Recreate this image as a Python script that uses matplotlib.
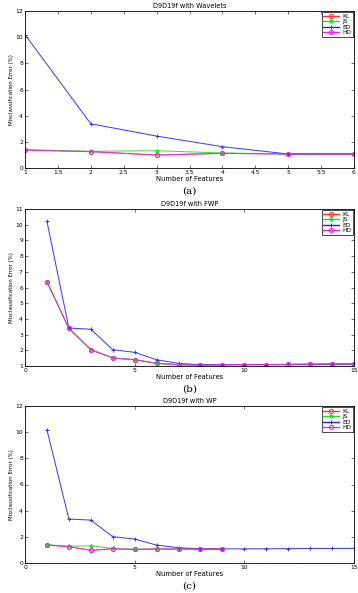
import matplotlib.pyplot as plt
import numpy as np

# panel (a): wavelets, 1..6 features
xa = [1, 2, 3, 4, 5, 6]
kl_a = [1.37, 1.25, 0.99, 1.12, 1.07, 1.07]
js_a = [1.40, 1.28, 1.32, 1.15, 1.07, 1.07]
ed_a = [10.2, 3.38, 2.44, 1.63, 1.07, 1.07]
hd_a = [1.37, 1.25, 0.99, 1.12, 1.07, 1.07]

# panel (b): FWP, 1..15 features
xb = list(range(1, 16))
kl_b = [6.37, 3.40, 2.04, 1.51, 1.40, 1.17, 1.08, 1.06, 1.08, 1.09, 1.09, 1.10, 1.11, 1.12, 1.13]
js_b = [6.37, 3.40, 2.04, 1.51, 1.40, 1.17, 1.08, 1.06, 1.08, 1.09, 1.09, 1.10, 1.11, 1.12, 1.13]
ed_b = [10.21, 3.42, 3.34, 2.04, 1.87, 1.40, 1.17, 1.08, 1.08, 1.09, 1.09, 1.10, 1.11, 1.12, 1.13]
hd_b = [6.37, 3.40, 2.04, 1.51, 1.40, 1.17, 1.08, 1.06, 1.08, 1.09, 1.09, 1.10, 1.11, 1.12, 1.13]

# panel (c): WP, ED runs to 15, the others stop at 9
xc_ed = list(range(1, 16))
xc = list(range(1, 10))
kl_c = [1.37, 1.25, 0.97, 1.09, 1.04, 1.07, 1.07, 1.07, 1.07]
js_c = [1.40, 1.28, 1.32, 1.12, 1.04, 1.07, 1.07, 1.07, 1.07]
ed_c = [10.18, 3.36, 3.28, 2.01, 1.83, 1.37, 1.17, 1.07, 1.08, 1.08, 1.09, 1.10, 1.11, 1.11, 1.12]
hd_c = [1.37, 1.25, 0.97, 1.09, 1.04, 1.07, 1.07, 1.07, 1.07]

titles = ["D9D19f with Wavelets", "D9D19f with FWP", "D9D19f with WP"]
captions = ["(a)", "(b)", "(c)"]

fig = plt.figure(figsize=(3.58, 5.93), dpi=100)
W, H = 358.0, 593.0
tops = [11, 209, 406]
fs = 4.3


def panel(ax, xs, series, xlim, xticks, ylim, yticks, title, cap):
    styles = [("KL", "#ff3030", "o"), ("JS", "#22dd22", "*"), ("ED", "#2222ee", "+"), ("HD", "#ee22ee", "o")]
    for (name, col, mk), x, y in zip(styles, xs, series):
        ax.plot(x, y, color=col, marker=mk, markersize=3, lw=0.75, mew=0.7,
                mfc="none" if mk == "o" else col, label=name, alpha=0.85)
    ax.set_xlim(*xlim)
    ax.set_ylim(*ylim)
    ax.set_xticks(xticks)
    ax.set_yticks(yticks)
    ax.tick_params(direction="in", length=2, width=0.4, labelsize=fs, pad=1.5,
                   top=True, right=True)
    for s in ax.spines.values():
        s.set_linewidth(0.6)
    ax.set_title(title, fontsize=fs + 0.5, pad=2.5)
    ax.set_xlabel("Number of Features", fontsize=fs + 0.6, labelpad=0.5)
    ax.set_ylabel("Misclassification Error (%)", fontsize=fs - 0.3, labelpad=1)
    leg = ax.legend(loc="upper right", fontsize=fs, fancybox=False, framealpha=1,
                    edgecolor="k", borderaxespad=0.2, handlelength=2.6,
                    labelspacing=0.05, borderpad=0.25, handletextpad=0.6)
    leg.get_frame().set_linewidth(0.5)
    for ln in leg.get_lines():
        ln.set_linewidth(1.0)
        ln.set_alpha(1)
    ax.text(0.5, -0.148, cap, transform=ax.transAxes, ha="center", va="center",
            fontsize=7.5, family="DejaVu Serif")


fmt = lambda v: ("%g" % v)

ax1 = fig.add_axes([25 / W, 1 - (tops[0] + 157) / H, 329 / W, 157 / H])
panel(ax1, [xa] * 4, [kl_a, js_a, ed_a, hd_a], (1, 6), np.arange(1, 6.01, 0.5),
      (0, 12), range(0, 13, 2), titles[0], captions[0])
ax1.set_xticklabels([fmt(v) for v in np.arange(1, 6.01, 0.5)])

ax2 = fig.add_axes([25 / W, 1 - (tops[1] + 157) / H, 329 / W, 157 / H])
panel(ax2, [xb] * 4, [kl_b, js_b, ed_b, hd_b], (0, 15), [0, 5, 10, 15],
      (1, 11), range(1, 12), titles[1], captions[1])

ax3 = fig.add_axes([25 / W, 1 - (tops[2] + 157) / H, 329 / W, 157 / H])
panel(ax3, [xc, xc, xc_ed, xc], [kl_c, js_c, ed_c, hd_c], (0, 15), [0, 5, 10, 15],
      (0, 12), range(0, 13, 2), titles[2], captions[2])

fig.savefig("out.png", dpi=100)
